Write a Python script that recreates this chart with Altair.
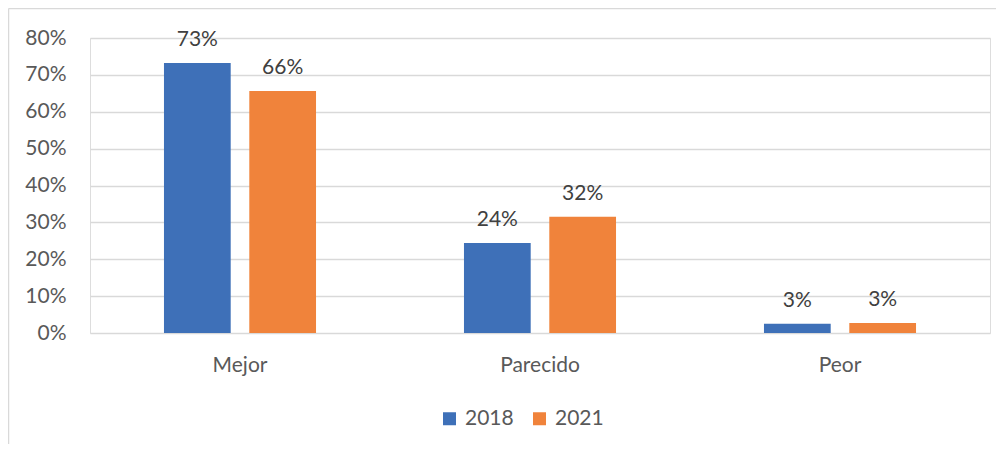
import altair as alt
import pandas as pd

categories = ["Mejor", "Parecido", "Peor"]
years = ["2018", "2021"]
values_2018 = [0.732, 0.244, 0.025]
values_2021 = [0.656, 0.315, 0.027]
y_ticks = [0, 0.1, 0.2, 0.3, 0.4, 0.5, 0.6, 0.7, 0.8]
colors = ["#3E70B8", "#F0833B"]

rows = []
for c, v in zip(categories, values_2018):
    rows.append({"cat": c, "year": "2018", "value": v})
for c, v in zip(categories, values_2021):
    rows.append({"cat": c, "year": "2021", "value": v})
df = pd.DataFrame(rows)

FONT = "Lato"
FS = 21

base = alt.Chart(df).encode(
    x=alt.X("cat:N", sort=categories,
            scale=alt.Scale(paddingInner=0, paddingOuter=0),
            axis=alt.Axis(title=None, labelAngle=0, domain=False, ticks=False,
                          labelPadding=21, labelFontSize=FS, labelColor="#595959",
                          labelFont=FONT, grid=False)),
    xOffset=alt.XOffset("year:N", sort=years,
                        scale=alt.Scale(paddingInner=0.218, paddingOuter=0.867)),
    y=alt.Y("value:Q", scale=alt.Scale(domain=[0, 0.8], nice=False),
            axis=alt.Axis(title=None, values=y_ticks, tickCount=9, format=".0%",
                          domain=False, ticks=False, grid=True, gridColor="#d9d9d9",
                          gridWidth=1.3, labelOverlap=False, labelPadding=24,
                          labelFontSize=FS, labelColor="#595959", labelFont=FONT)),
)

bars = base.mark_bar().encode(
    color=alt.Color("year:N", scale=alt.Scale(domain=years, range=colors),
                    legend=alt.Legend(title=None, orient="none", legendX=349, legendY=370,
                                      direction="horizontal", symbolType="square",
                                      symbolSize=169, symbolStrokeWidth=0,
                                      labelFontSize=FS, labelFont=FONT,
                                      labelColor="#595959", labelOffset=5,
                                      columnPadding=15, padding=0)),
)

labels = base.mark_text(dy=-17, baseline="alphabetic", fontSize=FS, font=FONT,
                        color="#404040").encode(
    text=alt.Text("value:Q", format=".0%"),
)

frame_df = pd.DataFrame({"k": [0]})
top_line = alt.Chart(frame_df).mark_rule(color="#d9d9d9", strokeWidth=1.5).encode(
    x=alt.value(-81.5), x2=alt.value(910), y=alt.value(-29.5))
left_line = alt.Chart(frame_df).mark_rule(color="#d9d9d9", strokeWidth=1.5).encode(
    x=alt.value(-81.5), y=alt.value(-29.5), y2=alt.value(420))

chart = alt.layer(bars, labels, top_line, left_line).properties(
    width=900, height=295,
    autosize=alt.AutoSizeParams(type="none"),
    padding={"left": 82, "top": 30, "right": 6, "bottom": 111},
).configure_view(stroke=None).configure(background="white")

chart.save("out.html", embed_options={"renderer": "svg", "actions": False})
